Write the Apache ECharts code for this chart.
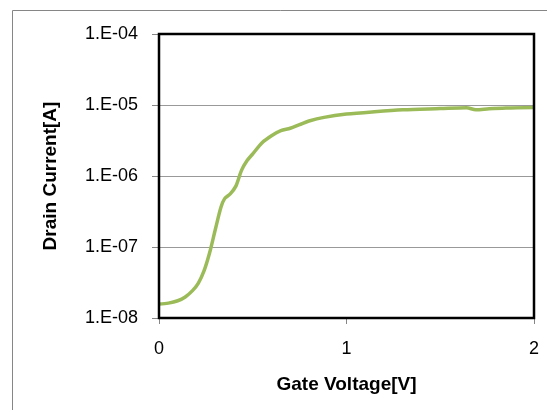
<!DOCTYPE html>
<html>
<head>
<meta charset="utf-8">
<script src="https://cdn.jsdelivr.net/npm/echarts@6/dist/echarts.min.js"></script>
<style>
html,body{margin:0;padding:0;background:#fff;}
#c{width:547px;height:410px;}
</style>
</head>
<body>
<div id="c"></div>
<script>
const gateVoltage = [0, 0.05, 0.10, 0.14, 0.18, 0.21, 0.24, 0.27, 0.30, 0.33, 0.35, 0.38, 0.41, 0.44, 0.47, 0.50, 0.55, 0.60, 0.65, 0.70, 0.75, 0.80, 0.88, 1.0, 1.15, 1.3, 1.5, 1.64, 1.69, 1.76, 1.85, 2.0];
const drainCurrent = [1.57e-8, 1.62e-8, 1.75e-8, 1.98e-8, 2.45e-8, 3.1e-8, 4.6e-8, 8.3e-8, 1.75e-7, 3.6e-7, 4.8e-7, 5.6e-7, 7.2e-7, 1.2e-6, 1.65e-6, 2.05e-6, 2.95e-6, 3.7e-6, 4.35e-6, 4.7e-6, 5.3e-6, 5.95e-6, 6.7e-6, 7.45e-6, 8.05e-6, 8.55e-6, 8.9e-6, 9.15e-6, 8.55e-6, 8.85e-6, 9.1e-6, 9.25e-6];
const yTickLabels = ['1.E-08', '1.E-07', '1.E-06', '1.E-05', '1.E-04'];
const xTickLabels = ['0', '1', '2'];
const xTitle = 'Gate Voltage[V]';
const yTitle = 'Drain Current[A]';

const FONT = 'Liberation Sans';
const chart = echarts.init(document.getElementById('c'), null, {renderer: 'canvas'});
chart.setOption({
  animation: false,
  backgroundColor: '#fff',
  graphic: [{
    type: 'rect', shape: {x: 12.5, y: 10.5, width: 700, height: 600},
    style: {fill: 'none', stroke: '#868686', lineWidth: 1}, z: -10
  }],
  grid: {left: 159, top: 34, right: 13, bottom: 92, show: true, borderColor: '#000', borderWidth: 2.5, backgroundColor: 'transparent', z: 5},
  xAxis: {
    type: 'value', min: 0, max: 2, interval: 1,
    name: xTitle, nameLocation: 'middle', nameGap: 57,
    nameTextStyle: {fontFamily: FONT, fontSize: 19, fontWeight: 'bold', color: '#000'},
    axisLine: {show: false},
    axisTick: {show: true, length: 6, lineStyle: {color: '#868686', width: 1}},
    axisLabel: {fontFamily: FONT, fontSize: 18, color: '#000', margin: 22,
      formatter: v => xTickLabels[Math.round(v)]},
    splitLine: {show: false}
  },
  yAxis: {
    type: 'log', logBase: 10, min: 1e-8, max: 1e-4,
    name: yTitle, nameLocation: 'middle', nameGap: 99, nameRotate: 90,
    nameTextStyle: {fontFamily: FONT, fontSize: 19, fontWeight: 'bold', color: '#000'},
    axisLine: {show: false},
    axisTick: {show: true, length: 7, lineStyle: {color: '#868686', width: 1}},
    axisLabel: {fontFamily: FONT, fontSize: 18, color: '#000', margin: 21,
      formatter: v => yTickLabels[Math.round(Math.log10(v)) + 8]},
    splitLine: {show: true, lineStyle: {color: '#999999', width: 1}}
  },
  series: [{
    type: 'line',
    data: gateVoltage.map((x, i) => [x, drainCurrent[i]]),
    smooth: 0.3,
    showSymbol: false,
    lineStyle: {color: '#9BBB59', width: 3.5},
    z: 3
  }]
});
</script>
</body>
</html>
